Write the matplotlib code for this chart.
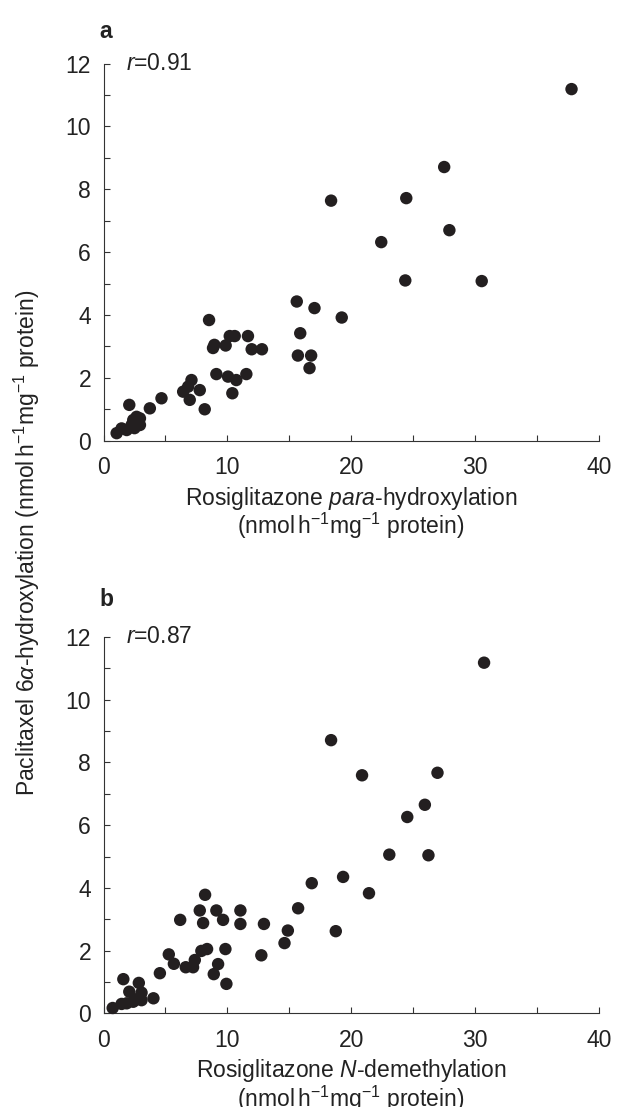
#! /usr/bin/env python
""" Paclitaxel 6-alpha hydroxylation vs rosiglitazone metabolism, two panels. """

import sys
import matplotlib
matplotlib.use('Agg')  # no display
import matplotlib.pyplot as plt
from matplotlib.ticker import MultipleLocator

# Panel a: rosiglitazone para-hydroxylation vs paclitaxel 6a-hydroxylation
para_x = [1.06, 1.46, 1.87, 2.08, 2.27, 2.40, 2.67, 2.94, 2.94, 2.50,
          3.74, 4.68, 6.43, 6.83, 7.10, 7.77, 6.96, 8.17, 8.52, 8.84,
          8.95, 9.11, 9.86, 10.05, 10.19, 10.59, 10.40, 10.72, 11.53, 11.66,
          11.96, 12.79, 15.60, 15.88, 15.69, 16.63, 16.76, 17.03, 19.23, 18.37,
          22.42, 24.36, 24.44, 27.50, 27.92, 30.53, 37.78]
para_y = [0.24, 0.39, 0.34, 1.14, 0.50, 0.66, 0.76, 0.71, 0.50, 0.40,
          1.03, 1.35, 1.56, 1.72, 1.93, 1.61, 1.30, 1.00, 3.84, 2.95,
          3.05, 2.12, 3.03, 2.04, 3.33, 3.33, 1.51, 1.93, 2.12, 3.33,
          2.91, 2.91, 4.43, 3.42, 2.71, 2.31, 2.71, 4.22, 3.92, 7.64,
          6.32, 5.10, 7.72, 8.71, 6.70, 5.08, 11.19]

# Panel b: rosiglitazone N-demethylation vs paclitaxel 6a-hydroxylation
ndem_x = [0.74, 1.60, 2.08, 1.46, 1.87, 2.40, 2.85, 3.07, 3.07, 2.67,
          4.03, 4.55, 5.27, 5.68, 6.19, 6.64, 7.23, 7.37, 7.90, 8.36,
          7.77, 8.20, 8.04, 8.90, 9.25, 9.11, 9.65, 9.84, 9.92, 11.05,
          11.05, 12.74, 12.95, 14.61, 14.88, 15.71, 16.81, 18.75, 19.34, 21.43,
          18.37, 20.87, 23.07, 24.52, 25.94, 26.23, 26.96, 30.72]
ndem_y = [0.17, 1.09, 0.69, 0.30, 0.32, 0.37, 0.97, 0.66, 0.42, 0.45,
          0.48, 1.28, 1.88, 1.58, 2.98, 1.47, 1.47, 1.70, 1.99, 2.05,
          3.28, 3.78, 2.88, 1.25, 1.57, 3.28, 2.98, 2.05, 0.94, 3.28,
          2.85, 1.85, 2.85, 2.24, 2.64, 3.35, 4.15, 2.62, 4.35, 3.83,
          8.71, 7.59, 5.06, 6.26, 6.65, 5.04, 7.67, 11.18]

x_ticks = [0, 10, 20, 30, 40]
y_ticks = [0, 2, 4, 6, 8, 10, 12]

INK = '#231f20'
AXC = '#333333'
TXT = '#222222'
FS = 16.5

plt.rcParams['font.family'] = ['Liberation Sans', 'DejaVu Sans']
plt.rcParams['mathtext.fontset'] = 'custom'
plt.rcParams['mathtext.rm'] = 'Liberation Sans'
plt.rcParams['mathtext.it'] = 'Liberation Sans:italic'
plt.rcParams['font.size'] = FS


def panel(ax, xs, ys, rtext, xlab, letter, letter_y):
    """ Draw one scatter panel. """
    ax.scatter(xs, ys, s=80, color=INK, edgecolors='none', clip_on=False,
               zorder=3)
    ax.set_xlim(0, 40)
    ax.set_ylim(0, 12)
    ax.set_xticks(x_ticks)
    ax.set_yticks(y_ticks)
    ax.xaxis.set_minor_locator(MultipleLocator(5))
    ax.yaxis.set_minor_locator(MultipleLocator(1))
    for side in ['top', 'right']:
        ax.spines[side].set_visible(False)
    for side in ['left', 'bottom']:
        ax.spines[side].set_color(AXC)
        ax.spines[side].set_linewidth(0.8)
    ax.tick_params(which='both', direction='in', length=4.5, width=0.8,
                   color=AXC, labelsize=FS, labelcolor=TXT)
    ax.tick_params(axis='y', which='both', pad=9)
    ax.tick_params(axis='x', which='both', pad=11)
    ax.set_xlabel(xlab, fontsize=FS, linespacing=0.98, labelpad=4,
                  color=TXT)
    ax.text(1.8, 12, rtext, fontsize=FS, va='center', ha='left', color=TXT)
    ax.text(0.005, letter_y, letter, transform=ax.transAxes, fontsize=FS,
            fontweight='bold', va='center', ha='center', color=TXT)


def main():
    fig = plt.figure(figsize=(6.18, 11.07), dpi=100)
    ax1 = fig.add_axes([0.1675, 0.6019, 0.8018, 0.3406])
    ax2 = fig.add_axes([0.1675, 0.0846, 0.8018, 0.3400])

    panel(ax1, para_x, para_y, r'$\mathit{r}$=0.91',
          'Rosiglitazone $\\mathit{para}$-hydroxylation\n'
          '(nmol$\\,$h$^{-1}$mg$^{-1}$ protein)', 'a', 1.085)
    panel(ax2, ndem_x, ndem_y, r'$\mathit{r}$=0.87',
          'Rosiglitazone $\\mathit{N}$-demethylation\n'
          '(nmol$\\,$h$^{-1}$mg$^{-1}$ protein)', 'b', 1.1)

    fig.text(0.044, 0.51,
             'Paclitaxel 6$\\mathit{\\alpha}$-hydroxylation '
             '(nmol$\\,$h$^{-1}$mg$^{-1}$ protein)',
             rotation=90, ha='center', va='center', fontsize=FS,
             color=TXT)

    fig.savefig('out.png', dpi=100)
    return 0


if __name__ == "__main__":
    sys.exit(main())
